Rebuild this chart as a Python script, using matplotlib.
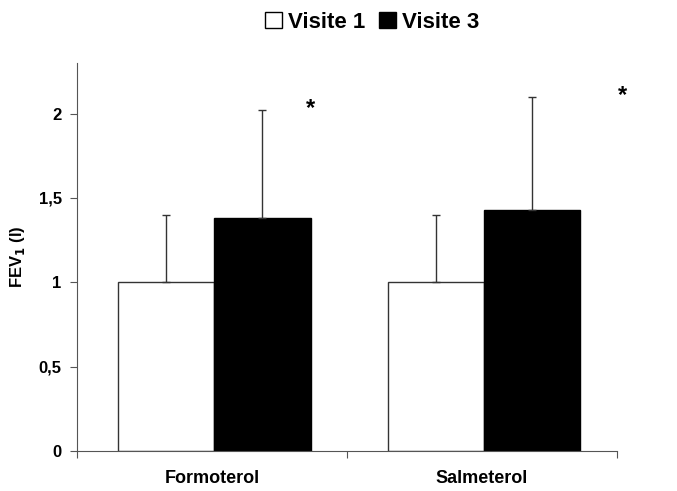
import matplotlib
matplotlib.use('Agg')
import matplotlib.pyplot as plt
from matplotlib.patches import Patch
import numpy as np

categories = ['Formoterol', 'Salmeterol']
visite1 = [1.0, 1.0]
visite1_sd = [0.40, 0.40]
visite3 = [1.38, 1.43]
visite3_sd = [0.64, 0.67]
star_dx = [0.365, 0.52]   # position of the "*" mark, right of each group

plt.rcParams['font.family'] = ['Liberation Sans', 'DejaVu Sans']
plt.rcParams['font.weight'] = 'bold'

fig = plt.figure(figsize=(6.77, 4.91), dpi=100)
ax = fig.add_axes([0.1137, 0.0815, 0.911 - 0.1137, 0.8717 - 0.0815])

x = np.arange(len(categories))
w = 0.357
edge = '#333333'
err_kw = dict(ecolor=edge, elinewidth=1.0, capsize=3, capthick=1.0)

ax.bar(x - 0.17, visite1, w, color='white', edgecolor=edge, linewidth=1.0,
       yerr=[np.zeros(2), visite1_sd], error_kw=err_kw, label='Visite 1')
ax.bar(x + 0.187, visite3, w, color='black', edgecolor='black', linewidth=1.0,
       yerr=[np.zeros(2), visite3_sd], error_kw=err_kw, label='Visite 3')

for i in range(len(categories)):
    ytop = visite3[i] + visite3_sd[i] + 0.01
    ax.text(x[i] + star_dx[i], ytop, '*', ha='center', va='center',
            fontsize=17, fontweight='bold')

ax.set_xlim(-0.5, 1.5)
ax.set_ylim(0, 2.3)
ax.set_yticks([0, 0.5, 1, 1.5, 2])
ax.set_yticklabels(['0', '0,5', '1', '1,5', '2'], fontsize=12, fontweight='bold')
ax.set_xticks([-0.5, 0.5, 1.5])
ax.set_xticklabels([])
ax.set_xticks(x, minor=True)
ax.set_xticklabels(categories, minor=True, fontsize=13, fontweight='bold')
ax.tick_params(axis='x', which='minor', length=0, pad=14)
ax.tick_params(axis='x', which='major', length=5, direction='out', color='#555555')
ax.tick_params(axis='y', length=5, direction='out', color='#555555', pad=6)

for s in ['top', 'right']:
    ax.spines[s].set_visible(False)
for s in ['left', 'bottom']:
    ax.spines[s].set_color('#555555')
    ax.spines[s].set_linewidth(0.8)

ax.set_ylabel('FEV$_\\mathbf{1}$ (l)', fontsize=12, fontweight='bold')
ax.yaxis.set_label_coords(-0.093, 0.5)

handles = [Patch(facecolor='white', edgecolor='black', linewidth=1.0, label='Visite 1'),
           Patch(facecolor='black', edgecolor='black', label='Visite 3')]
fig.legend(handles=handles, loc='center', bbox_to_anchor=(0.55, 0.955), ncol=2,
           frameon=False, handlelength=0.75, handleheight=0.75,
           handletextpad=0.3, columnspacing=0.6, prop={'weight': 'bold', 'size': 16})

fig.savefig('out.png', dpi=100)
